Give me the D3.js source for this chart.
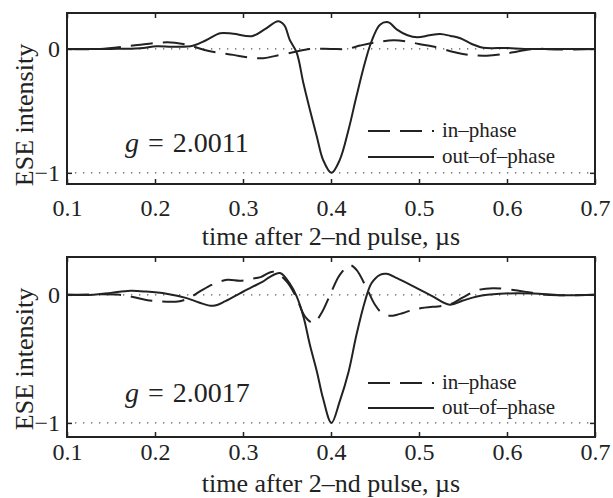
<!DOCTYPE html>
<html>
<head>
<meta charset="utf-8">
<script src="https://cdn.jsdelivr.net/npm/d3@7"></script>
<style>
  body { margin: 0; background: #fff; }
  text { font-family: "Liberation Serif", "DejaVu Serif", serif; fill: #222; }
</style>
</head>
<body>
<div id="chart"></div>
<script>
// ESE intensity vs time after 2nd pulse, two g values, in-phase (dashed) / out-of-phase (solid)

const xTicks = [0.1, 0.2, 0.3, 0.4, 0.5, 0.6, 0.7];
const yTicks = [-1, 0];
const xTitle = "time after 2–nd pulse, µs";
const yTitle = "ESE intensity";
const legendLabels = ["in–phase", "out–of–phase"];
const gValues = ["2.0011", "2.0017"];

// [time, intensity]
const outTop = [
  [0.10, 0], [0.15, 0.0], [0.183, 0.006], [0.202, 0.022], [0.22, 0.018], [0.243, 0.025],
  [0.258, 0.07], [0.274, 0.127], [0.289, 0.122], [0.311, 0.105], [0.325, 0.16],
  [0.340, 0.223], [0.347, 0.19], [0.353, 0.075], [0.361, -0.03], [0.3686, -0.275],
  [0.376, -0.49], [0.384, -0.71], [0.391, -0.895], [0.4005, -1.0], [0.41, -0.895],
  [0.42, -0.65], [0.429, -0.38], [0.4386, -0.11], [0.446, 0.06], [0.4557, 0.196],
  [0.465, 0.215], [0.475, 0.156], [0.487, 0.11], [0.498, 0.094], [0.512, 0.11],
  [0.524, 0.12], [0.536, 0.105], [0.547, 0.086], [0.56, 0.04], [0.573, 0.01],
  [0.60, 0.008], [0.62, 0.0], [0.65, 0.0], [0.70, 0.0]
];
const inTop = [
  [0.10, 0], [0.1375, 0.0], [0.175, 0.027], [0.214, 0.053], [0.232, 0.04], [0.243, 0.02],
  [0.26, -0.015], [0.289, -0.048], [0.305, -0.068], [0.323, -0.075], [0.3345, -0.06],
  [0.357, -0.027], [0.376, 0], [0.40, 0.0], [0.418, 0], [0.433, 0.027], [0.448, 0.05],
  [0.471, 0.07], [0.485, 0.062], [0.50, 0.04], [0.516, 0.02], [0.543, -0.03],
  [0.56, -0.05], [0.577, -0.054], [0.595, -0.042], [0.607, -0.027], [0.63, 0],
  [0.66, -0.005], [0.70, 0]
];
const outBottom = [
  [0.10, 0], [0.13, 0.0], [0.15, 0.015], [0.172, 0.031], [0.19, 0.025], [0.213, 0.008],
  [0.236, -0.026], [0.25, -0.06], [0.266, -0.086], [0.28, -0.05], [0.297, 0.013],
  [0.31, 0.06], [0.322, 0.1], [0.3307, 0.14], [0.342, 0.17], [0.353, 0.09],
  [0.361, -0.013], [0.369, -0.18], [0.376, -0.39], [0.384, -0.6], [0.391, -0.81],
  [0.4005, -1.0], [0.41, -0.83], [0.42, -0.6], [0.429, -0.31], [0.4386, -0.05],
  [0.446, 0.09], [0.4557, 0.156], [0.463, 0.164], [0.475, 0.13], [0.498, 0.05],
  [0.515, -0.01], [0.535, -0.078], [0.55, -0.045], [0.566, -0.013], [0.592, 0.008],
  [0.63, 0.01], [0.66, -0.003], [0.70, 0]
];
const inBottom = [
  [0.10, 0], [0.16, 0.0], [0.175, -0.018], [0.19, -0.04], [0.206, -0.052], [0.228, -0.05],
  [0.24, -0.02], [0.251, 0.026], [0.265, 0.08], [0.282, 0.117], [0.297, 0.11],
  [0.31, 0.125], [0.32, 0.138], [0.3345, 0.18], [0.3497, 0.104], [0.361, -0.026],
  [0.3705, -0.17], [0.38, -0.22], [0.3894, -0.14], [0.399, 0], [0.41, 0.156],
  [0.4216, 0.23], [0.429, 0.195], [0.4406, 0.05], [0.45, -0.078], [0.4576, -0.14],
  [0.467, -0.164], [0.475, -0.156], [0.498, -0.11], [0.527, -0.085], [0.537, -0.07],
  [0.55, -0.02], [0.566, 0.035], [0.584, 0.052], [0.615, 0.03], [0.645, 0], [0.70, 0]
];

const width = 613;
const height = 498;
const ink = "#222";
const dash = "22,10";
const font = '"Liberation Serif", "DejaVu Serif", serif';

const svg = d3.select("#chart")
  .append("svg")
  .attr("width", width)
  .attr("height", height);

const x = d3.scaleLinear().domain([0.1, 0.7]).range([67, 595]);

const panels = [
  { top: 13, bottom: 184, yMin: -1.09, yMax: 0.29, solid: outTop, dashed: inTop, g: gValues[0],
    tickPad: 15, titleY: 245, legendY: 131, legendStep: 26, gY: 152 },
  { top: 257, bottom: 437, yMin: -1.11, yMax: 0.295, solid: outBottom, dashed: inBottom, g: gValues[1],
    tickPad: 6, titleY: 492, legendY: 383, legendStep: 25, gY: 402 }
];

panels.forEach((p) => {
  const y = d3.scaleLinear().domain([p.yMin, p.yMax]).range([p.bottom, p.top]);
  const g = svg.append("g");

  // dotted reference lines at 0 and -1
  g.selectAll(".ref")
    .data(yTicks)
    .join("line")
    .attr("x1", x(0.1))
    .attr("x2", x(0.7))
    .attr("y1", (d) => y(d))
    .attr("y2", (d) => y(d))
    .attr("stroke", "#555")
    .attr("stroke-width", 1.2)
    .attr("stroke-dasharray", "1.3,6.7");

  const line = d3.line()
    .x((d) => x(d[0]))
    .y((d) => y(d[1]))
    .curve(d3.curveCatmullRom.alpha(0.5));

  g.append("path")
    .datum(p.dashed)
    .attr("d", line)
    .attr("fill", "none")
    .attr("stroke", ink)
    .attr("stroke-width", 2)
    .attr("stroke-dasharray", dash);

  g.append("path")
    .datum(p.solid)
    .attr("d", line)
    .attr("fill", "none")
    .attr("stroke", ink)
    .attr("stroke-width", 2);

  // axes, ticks point inward
  g.append("g")
    .attr("transform", `translate(0,${p.bottom})`)
    .call(d3.axisBottom(x).tickValues(xTicks).tickSizeInner(-5).tickSizeOuter(0)
      .tickPadding(p.tickPad).tickFormat(d3.format(".1f")));
  g.append("g")
    .attr("transform", `translate(0,${p.top})`)
    .call(d3.axisTop(x).tickValues(xTicks).tickSizeInner(-5).tickSizeOuter(0).tickFormat(""));
  g.append("g")
    .attr("transform", `translate(${x(0.1)},0)`)
    .call(d3.axisLeft(y).tickValues(yTicks).tickSizeInner(-5).tickSizeOuter(0)
      .tickPadding(7).tickFormat(d3.format("d")));
  g.append("g")
    .attr("transform", `translate(${x(0.7)},0)`)
    .call(d3.axisRight(y).tickValues(yTicks).tickSizeInner(-5).tickSizeOuter(0).tickFormat(""));

  g.selectAll(".domain").remove();
  g.selectAll("g[font-family]").attr("font-family", font);
  g.selectAll(".tick line").attr("stroke", ink).attr("stroke-width", 1.5);
  g.selectAll(".tick text")
    .attr("fill", ink)
    .attr("font-family", font)
    .attr("font-size", 24);

  g.append("rect")
    .attr("x", x(0.1))
    .attr("y", p.top)
    .attr("width", x(0.7) - x(0.1))
    .attr("height", p.bottom - p.top)
    .attr("fill", "none")
    .attr("stroke", ink)
    .attr("stroke-width", 2);

  // titles
  g.append("text")
    .attr("x", (x(0.1) + x(0.7)) / 2)
    .attr("y", p.titleY)
    .attr("text-anchor", "middle")
    .attr("font-size", 26)
    .text(xTitle);

  g.append("text")
    .attr("transform", `translate(33,${p.top + 102}) rotate(-90)`)
    .attr("text-anchor", "middle")
    .attr("font-size", 26)
    .text(yTitle);

  // g value
  const gt = g.append("text")
    .attr("x", 125)
    .attr("y", p.gY)
    .attr("font-size", 28);
  gt.append("tspan").attr("font-style", "italic").text("g");
  gt.append("tspan").attr("dx", 9).text("=");
  gt.append("tspan").attr("dx", 9).text(p.g);

  // legend
  const leg = g.selectAll(".leg")
    .data(legendLabels)
    .join("g")
    .attr("transform", (d, i) => `translate(368,${p.legendY + i * p.legendStep})`);
  leg.append("line")
    .attr("x1", 0)
    .attr("x2", 66)
    .attr("stroke", ink)
    .attr("stroke-width", 2)
    .attr("stroke-dasharray", (d, i) => (i === 0 ? dash : null));
  leg.append("text")
    .attr("x", 74)
    .attr("y", 6)
    .attr("font-size", 21)
    .text((d) => d);
});
</script>
</body>
</html>
